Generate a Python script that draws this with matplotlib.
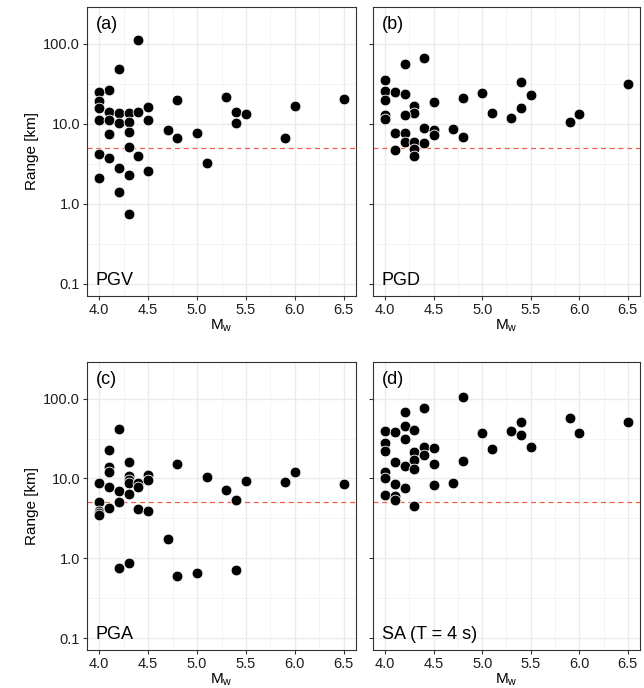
import matplotlib
matplotlib.use("Agg")
import matplotlib.pyplot as plt
import numpy as np

plt.rcParams['font.family'] = ['Liberation Sans', 'DejaVu Sans']

# ---- data ----
pgv_mw = [4.4, 4.2, 4.1, 4.0, 4.0, 4.0, 4.1, 4.2, 4.3, 4.4, 4.5, 4.0, 4.1, 4.2, 4.3, 4.5,
          4.8, 4.7, 4.8, 5.0, 4.1, 4.3, 4.3, 4.0, 4.1, 4.4, 4.2, 4.3, 4.0, 4.5, 5.1, 4.2,
          4.3, 5.3, 5.4, 5.4, 5.5, 5.9, 6.0, 6.5]
pgv_r = [112, 47.8, 26.6, 25.1, 19.4, 16.0, 14.1, 13.7, 13.7, 13.9, 16.2, 11.1, 11.1, 10.4,
         10.5, 11.1, 20.0, 8.5, 6.7, 7.7, 7.4, 8.0, 5.2, 4.2, 3.8, 4.0, 2.8, 2.3, 2.1, 2.6,
         3.2, 1.39, 0.74, 21.5, 14.1, 10.4, 13.2, 6.7, 16.9, 20.7]

pgd_mw = [4.4, 4.2, 4.0, 4.0, 4.1, 4.2, 4.0, 4.3, 4.5, 4.3, 4.2, 4.0, 4.0, 4.8, 5.0, 5.1,
          5.3, 5.4, 5.4, 5.5, 5.9, 6.0, 6.5, 4.4, 4.5, 4.5, 4.7, 4.8, 4.1, 4.2, 4.2, 4.3,
          4.4, 4.1, 4.3, 4.3]
pgd_r = [66, 55.9, 35.6, 25.7, 25.3, 23.4, 20.1, 16.9, 18.8, 13.7, 12.9, 12.9, 11.6, 20.9,
         24.6, 13.5, 12.0, 33.3, 16.0, 22.8, 10.5, 13.2, 31.8, 8.9, 8.3, 7.2, 8.6, 6.8, 7.7,
         7.7, 5.9, 5.9, 5.8, 4.7, 4.9, 4.0]

pga_mw = [4.2, 4.1, 4.1, 4.1, 4.3, 4.3, 4.3, 4.3, 4.4, 4.4, 4.5, 4.5, 4.0, 4.1, 4.2, 4.3,
          4.2, 4.0, 4.0, 4.0, 4.0, 4.1, 4.4, 4.5, 4.8, 5.1, 5.3, 5.4, 5.5, 5.9, 6.0, 6.5,
          4.7, 4.2, 4.3, 4.8, 5.0, 5.4]
pga_r = [41.4, 22.8, 13.9, 12.0, 16.0, 10.8, 9.6, 8.7, 8.7, 7.8, 11.1, 9.7, 8.8, 7.9, 6.9,
         6.4, 5.1, 5.0, 3.9, 3.7, 3.5, 4.3, 4.1, 3.9, 15.1, 10.3, 7.1, 5.3, 9.4, 9.0, 12.0,
         8.5, 1.75, 0.76, 0.86, 0.60, 0.66, 0.71]

sa_mw = [4.8, 4.4, 4.2, 4.2, 4.0, 4.1, 4.3, 4.2, 4.0, 4.0, 4.3, 4.4, 4.5, 4.4, 4.3, 4.1,
         4.2, 4.3, 4.5, 4.8, 4.0, 4.0, 4.1, 4.2, 4.5, 4.7, 4.0, 4.1, 4.1, 4.3, 5.0, 5.1,
         5.3, 5.4, 5.4, 5.5, 5.9, 6.0, 6.5]
sa_r = [104, 75.7, 68.8, 46.0, 39.8, 38.7, 41.0, 31.6, 28.2, 22.0, 21.3, 24.9, 24.2, 19.8,
        17.1, 16.2, 14.5, 13.2, 15.3, 16.5, 12.0, 10.2, 8.6, 7.6, 8.4, 8.8, 6.2, 6.0, 5.4,
        4.5, 36.9, 23.7, 39.5, 50.6, 35.1, 25.1, 57.3, 37.2, 50.6]

panel_tags = ["(a)", "(b)", "(c)", "(d)"]
panel_names = ["PGV", "PGD", "PGA", "SA (T = 4 s)"]
threshold = 5.0
x_ticks = [4.0, 4.5, 5.0, 5.5, 6.0, 6.5]
y_ticks = [0.1, 1.0, 10.0, 100.0]
y_ticklabels = ["0.1", "1.0", "10.0", "100.0"]

series = [(pgv_mw, pgv_r), (pgd_mw, pgd_r), (pga_mw, pga_r), (sa_mw, sa_r)]

# ---- figure ----
W, H = 644, 688
fig = plt.figure(figsize=(W / 100, H / 100), dpi=100)

boxes = [(87, 7, 356, 296), (373, 7, 640, 296), (87, 362, 356, 650), (373, 362, 640, 650)]

grid_major = '#EBEBEB'
grid_minor = '#F2F2F2'
border = '#333333'

for i, ((l, t, r, b), (mw, rr)) in enumerate(zip(boxes, series)):
    ax = fig.add_axes([l / W, (H - b) / H, (r - l) / W, (b - t) / H])
    ax.set_yscale('log')
    ax.set_xlim(3.875, 6.625)
    ax.set_ylim(10 ** -1.15, 10 ** 2.46)
    # grid
    for xv in x_ticks:
        ax.axvline(xv, color=grid_major, lw=1.0, zorder=0)
    for xv in np.arange(4.25, 6.5, 0.5):
        ax.axvline(xv, color=grid_minor, lw=0.6, zorder=0)
    for yv in y_ticks:
        ax.axhline(yv, color=grid_major, lw=1.0, zorder=0)
    for yv in [10 ** -0.5, 10 ** 0.5, 10 ** 1.5]:
        ax.axhline(yv, color=grid_minor, lw=0.6, zorder=0)
    ax.axhline(threshold, color='#F0604D', lw=0.9, ls=(0, (4, 3)), zorder=1)
    ax.scatter(mw, rr, s=60, c='black', edgecolors='white', linewidths=0.6, zorder=3)

    ax.set_xticks(x_ticks)
    ax.set_xticklabels([f"{v:.1f}" for v in x_ticks])
    ax.set_yticks(y_ticks)
    ax.yaxis.set_minor_locator(matplotlib.ticker.NullLocator())
    if i % 2 == 0:
        ax.set_yticklabels(y_ticklabels)
        ax.set_ylabel("Range [km]", fontsize=11, labelpad=3)
    else:
        ax.set_yticklabels([])
    ax.tick_params(axis='both', length=3, width=0.8, color=border, labelsize=10.5,
                   labelcolor='#1E1E1E', pad=2)
    ax.set_xlabel(r"M$_{\mathregular{w}}$", fontsize=11, labelpad=0)
    for s in ax.spines.values():
        s.set_color(border)
        s.set_linewidth(0.8)
    ax.text(0.033, 0.94, panel_tags[i], transform=ax.transAxes, fontsize=13,
            ha='left', va='center', color='black')
    ax.text(0.033, 0.055, panel_names[i], transform=ax.transAxes, fontsize=13,
            ha='left', va='center', color='black')

fig.savefig("out.png", dpi=100)
